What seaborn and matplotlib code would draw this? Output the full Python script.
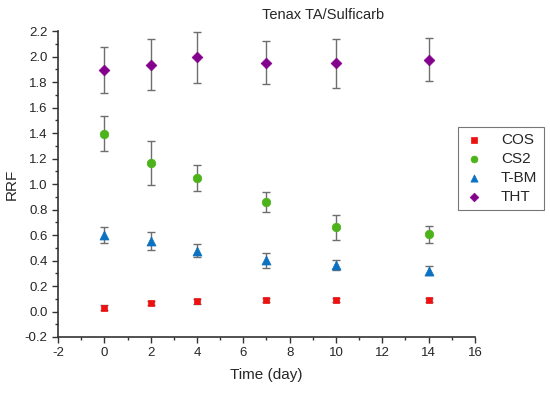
"""Tenax TA/Sulficarb RRF over time"""

import matplotlib
matplotlib.use("Agg")
import matplotlib.pyplot as plt
import matplotlib.ticker as mticker
import pandas as pd
import seaborn as sns

sns.set_style("ticks")
plt.rcParams["font.family"] = ["Liberation Sans", "DejaVu Sans"]
plt.rcParams["axes.unicode_minus"] = False

DAYS = [0, 2, 4, 7, 10, 14]
COMPOUNDS = ["COS", "CS2", "T-BM", "THT"]

COS = [0.03, 0.067, 0.08, 0.093, 0.093, 0.093]
COS_ERR = [0.018, 0.018, 0.018, 0.015, 0.015, 0.015]
CS2 = [1.395, 1.165, 1.047, 0.861, 0.660, 0.605]
CS2_ERR = [0.135, 0.17, 0.10, 0.077, 0.097, 0.068]
TBM = [0.60, 0.553, 0.477, 0.402, 0.365, 0.32]
TBM_ERR = [0.063, 0.07, 0.05, 0.06, 0.037, 0.037]
THT = [1.894, 1.936, 1.994, 1.951, 1.946, 1.975]
THT_ERR = [0.18, 0.2, 0.2, 0.17, 0.19, 0.17]

COLORS = {"COS": "#ee1111", "CS2": "#4db31a", "T-BM": "#0a72c0", "THT": "#82008c"}
MARKERS = {"COS": "s", "CS2": "o", "T-BM": "^", "THT": "D"}
SIZES = {"COS": 22, "CS2": 38, "T-BM": 42, "THT": 30}

values = {"COS": COS, "CS2": CS2, "T-BM": TBM, "THT": THT}
errors = {"COS": COS_ERR, "CS2": CS2_ERR, "T-BM": TBM_ERR, "THT": THT_ERR}

df = pd.concat(
    [pd.DataFrame({"day": DAYS, "rrf": values[c], "err": errors[c], "compound": c})
     for c in COMPOUNDS],
    ignore_index=True,
)

fig = plt.figure(figsize=(5.5, 3.93), dpi=100)
ax = fig.add_axes([0.1055, 0.1425, 0.758, 0.7785])

# grey error bars under the markers
ax.errorbar(df["day"], df["rrf"], yerr=df["err"], fmt="none", ecolor="#6e6e6e",
            elinewidth=1.0, capsize=3, capthick=1.0, zorder=1)

for c in COMPOUNDS:
    sub = df[df["compound"] == c]
    sns.scatterplot(data=sub, x="day", y="rrf", marker=MARKERS[c], s=SIZES[c],
                    color=COLORS[c], edgecolor=COLORS[c], linewidth=0.5,
                    label=c, ax=ax, zorder=3)

ax.set_xlim(-2, 16)
ax.set_ylim(-0.2, 2.2)
ax.xaxis.set_major_locator(mticker.MultipleLocator(2))
ax.xaxis.set_minor_locator(mticker.MultipleLocator(1))
ax.yaxis.set_major_locator(mticker.MultipleLocator(0.2))
ax.yaxis.set_minor_locator(mticker.MultipleLocator(0.1))
ax.yaxis.set_major_formatter(mticker.FormatStrFormatter("%.1f"))
ax.tick_params(which="major", length=4, width=1, labelsize=9.5, color="#333333")
ax.tick_params(which="minor", length=2.5, width=1, color="#333333")
sns.despine(ax=ax)
for side in ("left", "bottom"):
    ax.spines[side].set_color("#333333")
    ax.spines[side].set_linewidth(1.2)

ax.set_xlabel("Time (day)", fontsize=11, labelpad=6)
ax.set_ylabel("RRF", fontsize=11, labelpad=4)
fig.text(0.587, 0.962, "Tenax TA/Sulficarb", ha="center", va="center", fontsize=10.5)

leg = ax.legend(loc="upper left", bbox_to_anchor=(0.96, 0.688), fontsize=11,
                frameon=True, fancybox=False, borderpad=0.4, handletextpad=1.1,
                labelspacing=0.33, handlelength=1.3, borderaxespad=0, markerscale=0.8)
leg.get_frame().set_edgecolor("#555555")
leg.get_frame().set_linewidth(0.8)

fig.savefig("out.png", dpi=100)
plt.close(fig)
